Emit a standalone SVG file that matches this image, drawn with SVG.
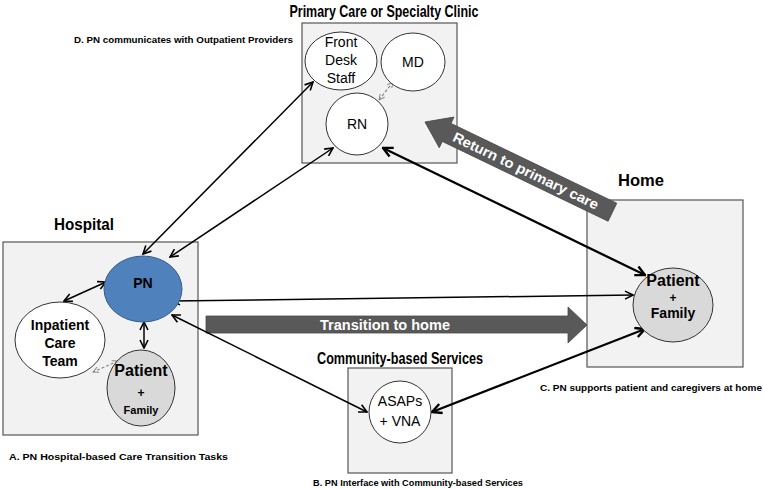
<svg xmlns="http://www.w3.org/2000/svg" width="763" height="489" viewBox="0 0 763 489">
<defs>
<style>
.box{fill:#f2f2f2;stroke:#555;stroke-width:1.2}
.title{font-family:"Liberation Sans",Arial,sans-serif;font-weight:bold;font-size:17px;fill:#000;text-anchor:middle}
.cap{font-family:"Liberation Sans",Arial,sans-serif;font-weight:bold;font-size:8.5px;fill:#000}
.node{fill:#fff;stroke:#333;stroke-width:1}
.pat{fill:#d9d9d9;stroke:#333;stroke-width:1}
.t{font-family:"Liberation Sans",Arial,sans-serif;font-size:14px;fill:#000;text-anchor:middle}
.tb{font-family:"Liberation Sans",Arial,sans-serif;font-weight:bold;fill:#000;text-anchor:middle}
.con{fill:none;stroke:#000;stroke-width:1.5;marker-start:url(#ah);marker-end:url(#ah)}
.thick{stroke-width:2.3;marker-start:url(#ahb);marker-end:url(#ahb)}
.dash{fill:none;stroke:#888;stroke-width:1.2;stroke-dasharray:3 2;marker-start:url(#ad);marker-end:url(#ad)}
.big{fill:#595959;stroke:#4a4a4a;stroke-width:0.8}
.bt{font-family:"Liberation Sans",Arial,sans-serif;font-weight:bold;font-size:14px;fill:#fff;text-anchor:middle}
</style>
<marker id="ah" viewBox="0 0 10 10" refX="9" refY="5" markerWidth="10" markerHeight="10" markerUnits="userSpaceOnUse" orient="auto-start-reverse"><path d="M1,1 L9,5 L1,9" fill="none" stroke="#000" stroke-width="1.6"/></marker>
<marker id="ahb" viewBox="0 0 10 10" refX="9" refY="5" markerWidth="12" markerHeight="12" markerUnits="userSpaceOnUse" orient="auto-start-reverse"><path d="M1,1 L9,5 L1,9" fill="none" stroke="#000" stroke-width="2"/></marker>
<marker id="ad" viewBox="0 0 10 10" refX="9" refY="5" markerWidth="7" markerHeight="7" markerUnits="userSpaceOnUse" orient="auto-start-reverse"><path d="M1,1 L9,5 L1,9" fill="none" stroke="#888" stroke-width="1.4"/></marker>
</defs>
<rect width="763" height="489" fill="#fff"/>

<g id="primary-care">
<rect class="box" x="302" y="23" width="155" height="140"/>
<text class="title" x="384" y="17" textLength="189" lengthAdjust="spacingAndGlyphs">Primary Care or Specialty Clinic</text>
</g>
<g id="hospital">
<rect class="box" x="3" y="242" width="195" height="193"/>
<text class="title" x="84" y="230" textLength="60" lengthAdjust="spacingAndGlyphs">Hospital</text>
</g>
<g id="home">
<rect class="box" x="587" y="200" width="156" height="167"/>
<text class="title" x="641" y="186" textLength="46" lengthAdjust="spacingAndGlyphs">Home</text>
</g>
<g id="community">
<rect class="box" x="348" y="368" width="104" height="105"/>
<text class="title" x="400" y="364" textLength="166" lengthAdjust="spacingAndGlyphs">Community-based Services</text>
</g>

<g id="captions">
<text class="cap" x="74" y="43" textLength="219" lengthAdjust="spacingAndGlyphs">D.  PN communicates with Outpatient  Providers</text>
<text class="cap" x="9" y="460" textLength="219" lengthAdjust="spacingAndGlyphs">A.  PN Hospital-based  Care Transition Tasks</text>
<text class="cap" x="313" y="486" textLength="210" lengthAdjust="spacingAndGlyphs">B.  PN Interface with Community-based  Services</text>
<text class="cap" x="540" y="391" textLength="222" lengthAdjust="spacingAndGlyphs">C.  PN supports patient and caregivers at home</text>
</g>

<g id="transition-arrow">
<polygon class="big" points="206,316 568,316 568,307 587,325 568,343 568,333 206,333"/>
<text class="bt" x="385" y="330" font-size="15" textLength="130" lengthAdjust="spacingAndGlyphs">Transition  to home</text>
</g>
<g id="return-arrow" transform="translate(425,122) rotate(25.7)">
<polygon class="big" points="0,0 24,-17 24,-10 208,-10 208,10 24,10 24,17"/>
<text class="bt" x="112" y="5" textLength="160" lengthAdjust="spacingAndGlyphs">Return to primary  care</text>
</g>

<g id="connectors">
<line class="con" x1="143" y1="254" x2="313" y2="82"/>
<line class="con" x1="170" y1="257" x2="333" y2="148"/>
<line class="con thick" x1="383" y1="148" x2="645" y2="275"/>
<line class="con" x1="172" y1="301" x2="633" y2="295"/>
<line class="con" x1="172" y1="315" x2="367" y2="412"/>
<line class="con thick" x1="645" y1="329" x2="432" y2="412"/>
<line class="con" x1="106" y1="282" x2="64" y2="301"/>
<line class="con" x1="144" y1="322" x2="144" y2="348"/>
<line class="dash" x1="379" y1="100" x2="393" y2="82"/>
<line class="dash" x1="118" y1="361" x2="93" y2="372"/>
</g>

<g id="front-desk">
<ellipse class="node" cx="341" cy="61" rx="36" ry="29"/>
<text class="t" x="341" y="47">Front</text>
<text class="t" x="341" y="65">Desk</text>
<text class="t" x="341" y="83">Staff</text>
</g>
<g id="md">
<ellipse class="node" cx="413" cy="62" rx="32" ry="29"/>
<text class="t" x="413" y="67">MD</text>
</g>
<g id="rn">
<ellipse class="node" cx="357" cy="124" rx="31" ry="31"/>
<text class="t" x="357" y="129">RN</text>
</g>
<g id="pn">
<ellipse cx="143" cy="289" rx="39" ry="33" fill="#4f81bd" stroke="#385d8a" stroke-width="1"/>
<text class="tb" x="143" y="288" font-size="14">PN</text>
</g>
<g id="inpatient">
<ellipse class="node" cx="60" cy="340" rx="45" ry="38"/>
<text class="tb" x="60" y="330" font-size="14">Inpatient</text>
<text class="tb" x="60" y="348" font-size="14">Care</text>
<text class="tb" x="60" y="366" font-size="14">Team</text>
</g>
<g id="hospital-patient">
<ellipse class="pat" cx="141" cy="388" rx="34" ry="38"/>
<text class="tb" x="141" y="376" font-size="16">Patient</text>
<text class="tb" x="141" y="397" font-size="12">+</text>
<text class="tb" x="141" y="414" font-size="11">Family</text>
</g>
<g id="home-patient">
<ellipse class="pat" cx="673" cy="305" rx="40" ry="37"/>
<text class="tb" x="673" y="286" font-size="16">Patient</text>
<text class="tb" x="673" y="302" font-size="12">+</text>
<text class="tb" x="673" y="318" font-size="14">Family</text>
</g>
<g id="asaps">
<ellipse class="node" cx="400" cy="412" rx="31" ry="31"/>
<text class="t" x="400" y="406">ASAPs</text>
<text class="t" x="400" y="426">+ VNA</text>
</g>
</svg>
